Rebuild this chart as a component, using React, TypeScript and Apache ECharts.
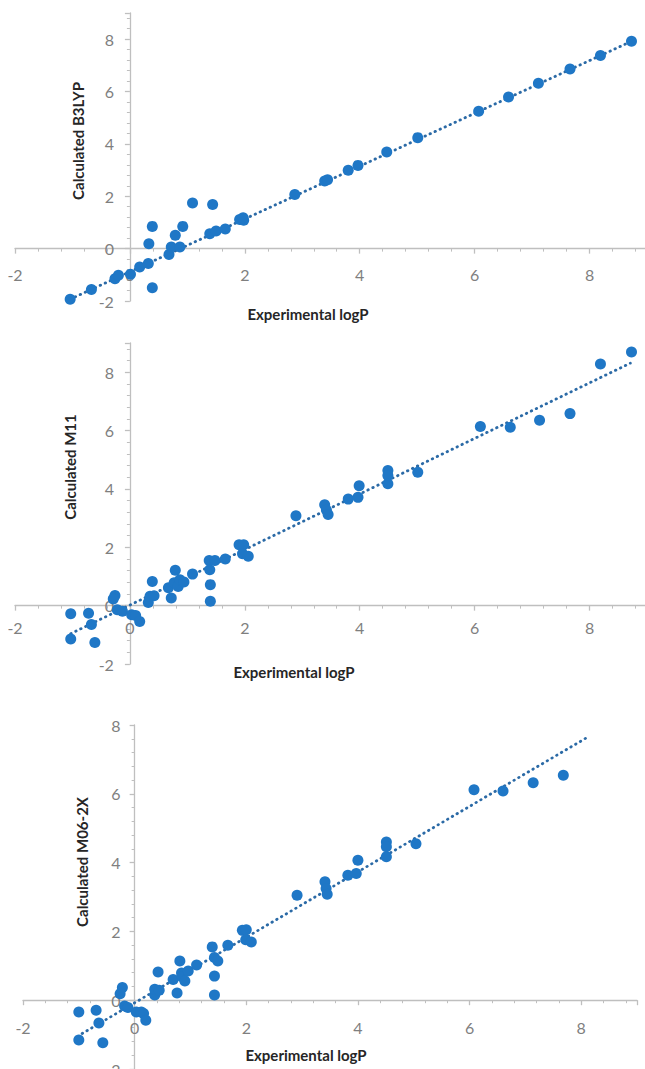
import React, { useEffect, useRef } from "react";
import * as echarts from "echarts";

// Panel 1: Calculated B3LYP vs Experimental logP
const expB3 = [-1.04,-0.67,-0.26,-0.2,0.01,0.17,0.32,0.39,0.33,0.39,0.68,0.72,0.79,0.87,0.92,1.09,1.44,1.39,1.5,1.66,1.91,1.98,1.97,2.87,3.39,3.44,3.8,3.97,4.47,5.01,6.07,6.59,7.11,7.66,8.19,8.73];
const calcB3 = [-1.93,-1.56,-1.15,-1.02,-0.98,-0.7,-0.57,-1.49,0.19,0.85,-0.22,0.06,0.51,0.06,0.85,1.74,1.69,0.57,0.67,0.75,1.11,1.08,1.18,2.07,2.58,2.63,2.99,3.18,3.69,4.24,5.25,5.79,6.32,6.86,7.38,7.92];
const trendB3X = [-1.04, 8.73];
const trendB3Y = [-1.93, 7.92];

// Panel 2: Calculated M11
const expM11 = [-1.03,-1.03,-0.72,-0.67,-0.61,-0.26,-0.29,-0.22,-0.13,0.03,0.1,0.17,0.32,0.35,0.39,0.42,0.67,0.72,0.77,0.79,0.84,0.87,0.94,1.09,1.38,1.39,1.4,1.4,1.48,1.66,1.9,1.98,1.96,2.06,2.89,3.39,3.42,3.45,3.8,3.97,3.99,4.49,4.49,4.49,5.01,6.1,6.62,7.13,7.66,8.19,8.73];
const calcM11 = [-0.28,-1.14,-0.26,-0.65,-1.26,0.35,0.23,-0.14,-0.19,-0.31,-0.34,-0.54,0.11,0.32,0.83,0.34,0.61,0.26,0.78,1.21,0.66,0.89,0.81,1.08,1.55,1.23,0.72,0.15,1.55,1.6,2.09,2.09,1.78,1.69,3.08,3.46,3.28,3.12,3.65,3.71,4.11,4.63,4.46,4.18,4.57,6.14,6.11,6.35,6.58,8.28,8.69];
const trendM11X = [-1.03, 8.71];
const trendM11Y = [-0.96, 8.31];

// Panel 3: Calculated M06-2X
const expM06 = [-1.0,-1.0,-0.69,-0.64,-0.57,-0.22,-0.26,-0.18,-0.12,0.03,0.12,0.16,0.2,0.36,0.36,0.42,0.44,0.69,0.76,0.81,0.84,0.85,0.9,0.96,1.11,1.39,1.43,1.49,1.43,1.43,1.67,1.93,2.0,1.99,2.09,2.91,3.41,3.43,3.45,3.82,3.97,4.0,4.51,4.51,4.51,5.04,6.08,6.6,7.14,7.68];
const calcM06 = [-0.34,-1.16,-0.29,-0.66,-1.24,0.37,0.19,-0.17,-0.21,-0.34,-0.34,-0.39,-0.58,0.15,0.32,0.82,0.29,0.6,0.21,1.14,0.79,0.68,0.56,0.85,1.02,1.55,1.24,1.14,0.7,0.15,1.6,2.03,2.05,1.76,1.69,3.05,3.44,3.25,3.08,3.63,3.68,4.07,4.6,4.46,4.17,4.55,6.12,6.08,6.32,6.54];
const trendM06X = [-0.94, 8.14];
const trendM06Y = [-0.97, 7.67];

const xTitle = "Experimental logP";
const yTitles = ["Calculated B3LYP", "Calculated M11", "Calculated M06-2X"];

const AXIS = "#bfbfbf";
const LABEL = "#7f7f7f";
const DOT = "#1f77c6";
const TREND = "#2b6aa6";
const FONT = "Lato, 'Open Sans', sans-serif";

const zip = (a: number[], b: number[]) => a.map((v, i) => [v, b[i]]);

type G = { left: number; top: number; width: number; height: number };
const grids: G[] = [
  { left: 15, top: 13, width: 632, height: 288 },
  { left: 15, top: 343, width: 632, height: 321 },
  { left: 23, top: 725, width: 614, height: 344 },
];

function makeAxis(gridIndex: number, min: number, max: number, margin: number, offset: number, position: string) {
  return {
    type: "value",
    gridIndex,
    min,
    max,
    interval: 2,
    position,
    offset,
    axisLine: { show: true, onZero: false, lineStyle: { color: AXIS, width: 1.3 } },
    axisTick: { show: true, length: 5, lineStyle: { color: AXIS, width: 1.3 } },
    minorTick: { show: true, splitNumber: 5, length: 3, lineStyle: { color: AXIS } },
    splitLine: { show: false },
    minorSplitLine: { show: false },
    axisLabel: {
      color: LABEL,
      fontSize: 16,
      fontFamily: FONT,
      margin,
      formatter: (v: number) => (Math.abs(v % 2) < 1e-9 ? String(v) : ""),
    },
  };
}

// offsets so that each axis crosses the other at zero
const xOff = (g: G, yMin: number, yMax: number) => -((0 - yMin) / (yMax - yMin)) * g.height;
const yOff = (g: G, xMin: number, xMax: number) => -((0 - xMin) / (xMax - xMin)) * g.width;

export default function App() {
  const ref = useRef<HTMLDivElement>(null);
  useEffect(() => {
    if (!ref.current) return;
    const chart = echarts.init(ref.current, undefined, { renderer: "svg" });
    const scatter = (i: number, data: number[][]) => ({
      type: "scatter",
      xAxisIndex: i,
      yAxisIndex: i,
      data,
      symbolSize: 11,
      itemStyle: { color: DOT, opacity: 1 },
      z: 3,
    });
    const trend = (i: number, xs: number[], ys: number[]) => ({
      type: "line",
      xAxisIndex: i,
      yAxisIndex: i,
      data: zip(xs, ys),
      showSymbol: false,
      symbol: "none",
      lineStyle: { color: TREND, width: 2.8, type: [0.5, 5], cap: "round" },
      z: 2,
    });
    const title = (x: number, y: number, text: string, rot = 0) => ({
      type: "text",
      x,
      y,
      rotation: rot,
      style: {
        text,
        fill: "#262626",
        font: `bold 15px ${FONT}`,
        align: "center",
        verticalAlign: "middle",
      },
    });
    const yr = [[-2, 9], [-2, 9], [-2, 8]];
    chart.setOption({
      animation: false,
      grid: grids.map((g) => ({ ...g, containLabel: false, outerBoundsMode: "none" })),
      xAxis: [
        makeAxis(0, -2, 9, 18, xOff(grids[0], yr[0][0], yr[0][1]), "bottom"),
        makeAxis(1, -2, 9, 14, xOff(grids[1], yr[1][0], yr[1][1]), "bottom"),
        makeAxis(2, -2, 9, 19, xOff(grids[2], yr[2][0], yr[2][1]), "bottom"),
      ],
      yAxis: [
        makeAxis(0, yr[0][0], yr[0][1], 16, yOff(grids[0], -2, 9), "left"),
        makeAxis(1, yr[1][0], yr[1][1], 16, yOff(grids[1], -2, 9), "left"),
        makeAxis(2, yr[2][0], yr[2][1], 14, yOff(grids[2], -2, 9), "left"),
      ],
      series: [
        trend(0, trendB3X, trendB3Y),
        scatter(0, zip(expB3, calcB3)),
        trend(1, trendM11X, trendM11Y),
        scatter(1, zip(expM11, calcM11)),
        trend(2, trendM06X, trendM06Y),
        scatter(2, zip(expM06, calcM06)),
      ],
      graphic: [
        title(308, 314, xTitle),
        title(294, 672, xTitle),
        title(306, 1055, xTitle),
        title(78, 141, yTitles[0], Math.PI / 2),
        title(70, 467, yTitles[1], Math.PI / 2),
        title(82, 862, yTitles[2], Math.PI / 2),
      ],
    });
    return () => chart.dispose();
  }, []);
  return (
    <div
      ref={ref}
      style={{ position: "absolute", left: 0, top: 0, width: 645, height: 1069, background: "#fff" }}
    />
  );
}
